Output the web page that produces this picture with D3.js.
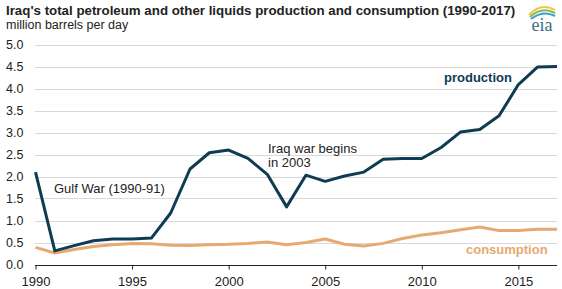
<!DOCTYPE html>
<html>
<head>
<meta charset="utf-8">
<script src="https://cdn.jsdelivr.net/npm/d3@7"></script>
<style>
  html, body { margin: 0; padding: 0; background: #fff; }
  svg { display: block; font-family: Arial, "Liberation Sans", sans-serif; }
</style>
</head>
<body>
<svg id="chart" width="562" height="289"></svg>
<script>
const years = d3.range(1990, 2018);
const production = [2.10, 0.31, 0.43, 0.54, 0.58, 0.58, 0.60, 1.17, 2.17, 2.54,
                    2.60, 2.41, 2.05, 1.31, 2.03, 1.89, 2.01, 2.10, 2.39, 2.41,
                    2.41, 2.66, 3.01, 3.07, 3.38, 4.09, 4.49, 4.50];
const consumption = [0.39, 0.26, 0.34, 0.41, 0.45, 0.48, 0.47, 0.44, 0.43, 0.45,
                     0.46, 0.48, 0.51, 0.45, 0.50, 0.58, 0.46, 0.42, 0.48, 0.59,
                     0.67, 0.72, 0.79, 0.85, 0.77, 0.77, 0.80, 0.80];
const yTicks = [0, 0.5, 1, 1.5, 2, 2.5, 3, 3.5, 4, 4.5, 5];
const xTicks = [1990, 1995, 2000, 2005, 2010, 2015];
const titleText = "Iraq's total petroleum and other liquids production and consumption (1990-2017)";
const unitText = "million barrels per day";

const svg = d3.select("#chart");
const x = d3.scaleLinear().domain([1990, 2017]).range([35.5, 557]);
const y = d3.scaleLinear().domain([0, 5]).range([264.5, 44.5]);

// title
svg.append("text").attr("x", 6).attr("y", 15).attr("font-weight", "bold")
  .attr("font-size", 13.3).attr("fill", "#222").text(titleText);
svg.append("text").attr("x", 6).attr("y", 29).attr("font-size", 12.5)
  .attr("fill", "#222").text(unitText);

// eia logo
const logo = svg.append("g").attr("transform", "translate(527,4)");
logo.append("path").attr("d", "M2,11 Q14,-2 28,6").attr("fill", "none").attr("stroke", "#f5c342").attr("stroke-width", 2);
logo.append("path").attr("d", "M3,13 Q15,2 28,9").attr("fill", "none").attr("stroke", "#7cbf4a").attr("stroke-width", 2);
logo.append("path").attr("d", "M4,15 Q16,6 28,12").attr("fill", "none").attr("stroke", "#3f9bd1").attr("stroke-width", 2);
logo.append("text").attr("x", 15).attr("y", 27).attr("text-anchor", "middle")
  .attr("font-family", "'Liberation Serif', 'DejaVu Serif', serif").attr("font-size", 18)
  .attr("fill", "#3b6f84").text("eia");

// gridlines
svg.append("g").selectAll("line").data(yTicks.filter(d => d > 0)).join("line")
  .attr("x1", 35).attr("x2", 557)
  .attr("y1", d => Math.round(y(d)) + 0.5).attr("y2", d => Math.round(y(d)) + 0.5)
  .attr("stroke", "#d9d9d9").attr("stroke-width", 1);

// y labels
svg.append("g").selectAll("text").data(yTicks).join("text")
  .attr("x", 6).attr("y", d => y(d) + 4.5)
  .attr("font-size", 12.5).attr("fill", "#222")
  .text(d => d.toFixed(1));

// x axis
const xAxis = d3.axisBottom(x).tickValues(xTicks).tickFormat(d3.format("d"))
  .tickSize(4).tickSizeOuter(0);
const gx = svg.append("g").attr("transform", `translate(0,${Math.round(y(0)) + 0.5})`).call(xAxis);
gx.select(".domain").attr("d", "M35,0H557").attr("stroke", "#222");
gx.selectAll(".tick line").attr("stroke", "#222");
gx.selectAll(".tick text").attr("font-size", 13).attr("fill", "#222")
  .attr("font-family", "Arial, 'Liberation Sans', sans-serif").attr("dy", "1.0em");

// lines
const line = d3.line().x((d, i) => x(years[i])).y(d => y(d));
svg.append("path").datum(consumption).attr("d", line).attr("fill", "none")
  .attr("stroke", "#e5aa72").attr("stroke-width", 3).attr("stroke-linejoin", "round");
svg.append("path").datum(production).attr("d", line).attr("fill", "none")
  .attr("stroke", "#0f3c53").attr("stroke-width", 3).attr("stroke-linejoin", "round");

// annotations
svg.append("text").attr("x", 54).attr("y", 193).attr("font-size", 13).attr("fill", "#222")
  .text("Gulf War (1990-91)");
const iraq = svg.append("text").attr("x", 268).attr("y", 152.5).attr("font-size", 13).attr("fill", "#222");
iraq.append("tspan").attr("x", 268).text("Iraq war begins");
iraq.append("tspan").attr("x", 268).attr("dy", 14).text("in 2003");

svg.append("text").attr("x", 444).attr("y", 81.5).attr("font-size", 13).attr("font-weight", "bold")
  .attr("fill", "#0f3c53").text("production");
svg.append("text").attr("x", 466).attr("y", 254).attr("font-size", 13).attr("font-weight", "bold")
  .attr("fill", "#e5aa72").text("consumption");
</script>
</body>
</html>
